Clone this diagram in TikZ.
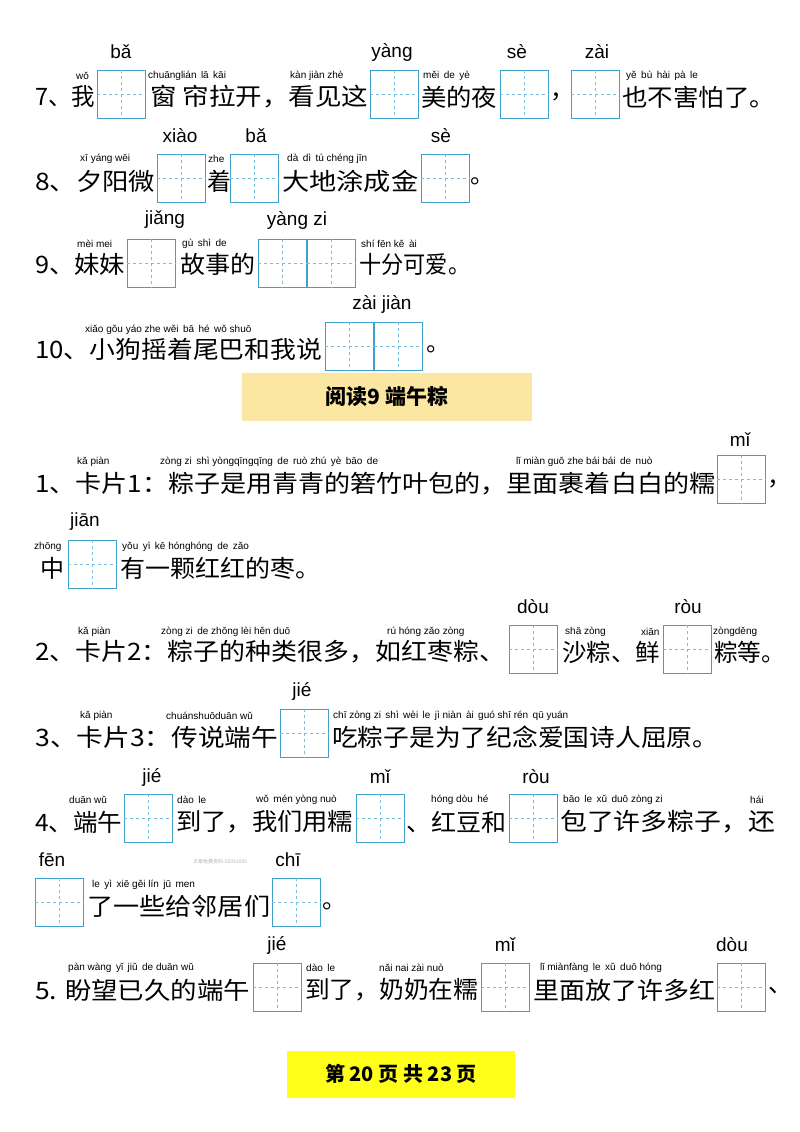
\documentclass[tikz,border=0pt]{standalone}
\usepackage{fontspec}
\usepackage{graphicx}
\setmainfont{Liberation Sans}
\newfontfamily\cjk{Noto Sans CJK SC}
\newfontfamily\py{Liberation Sans}
\definecolor{boxblue}{HTML}{3FA0CC}
\definecolor{titlebg}{HTML}{FBE7A1}
\definecolor{pagebg}{HTML}{FFFF1A}
\tikzset{
  zh/.style={anchor=west,inner sep=0pt,font=\cjk\fontsize{24}{24}\selectfont},
  sp/.style={anchor=west,inner sep=0pt,font=\py\fontsize{10}{10}\selectfont},
  bp/.style={anchor=center,inner sep=0pt,font=\py\fontsize{19}{19}\selectfont},
  tianbox/.style={draw=boxblue,line width=1.1pt,minimum width=48pt,minimum height=48pt,inner sep=0pt,anchor=north west},
}
\newcounter{bx}
\newcommand{\TB}[2]{\stepcounter{bx}%
  \node[tianbox] (b\thebx) at (#1,-#2) {};
  \draw[boxblue!70,dashed,line width=0.5pt] (b\thebx.north) -- (b\thebx.south) (b\thebx.west) -- (b\thebx.east);}
\newcounter{tx}
\newcommand{\ZH}[4]{\stepcounter{tx}\pgfmathsetmacro\zw{#3-#1}\node[zh] (z\thetx) at (#1,-#2) {\resizebox{\zw pt}{\height}{#4}};}
\newcommand{\ZC}[3]{\stepcounter{tx}\node[zh] (z\thetx) at (#1,-#2) {#3};}
\newcommand{\SP}[3]{\stepcounter{tx}\node[sp] (s\thetx) at (#1,-#2) {#3};}
\newcommand{\BP}[3]{\stepcounter{tx}\node[bp] (p\thetx) at (#1,-#2) {#3};}
\begin{document}
\begin{tikzpicture}[x=1pt,y=1pt]
\path[use as bounding box,fill=white] (0,0) rectangle (800,-1132);
% Row 7
\BP{121}{52}{bǎ}\BP{392}{52}{yàng}\BP{517}{52}{sè}\BP{597}{52}{zài}
\SP{76}{76}{wǒ}\SP{148}{76}{chuānglián\, lā\, kāi}\SP{290}{76}{kàn jiàn zhè}\SP{423}{76}{měi\, de\, yè}\SP{626}{76}{yě\, bù\, hài\, pà\, le}
\TB{97}{70}\TB{370}{70}\TB{500}{70}\TB{571}{70}
\ZH{35}{97}{95}{7、我}\ZH{150}{97}{368}{窗 帘拉开，看见这}\ZH{421}{97}{497}{美的夜}\ZC{550}{97}{，}\ZH{622}{97}{775}{也不害怕了。}
% Row 8
\BP{180}{136}{xiào}\BP{256}{136}{bǎ}\BP{441}{136}{sè}
\SP{80}{159}{xī yáng wēi}\SP{208}{159}{zhe}\SP{287}{159}{dà\, dì\, tú chéng jīn}
\TB{157}{154}\TB{230}{154}\TB{421}{154}
\ZH{35}{181}{155}{8、夕阳微}\ZC{207}{181}{着}\ZH{282}{181}{418}{大地涂成金}\ZC{470}{181}{。}
% Row 9
\BP{165}{220}{jiǎng}\BP{297}{220}{yàng zi}
\SP{77}{244}{mèi mei}\SP{182}{244}{gù\, shì\, de}\SP{361}{244}{shí fēn kě\, ài}
\TB{127}{239}\TB{258}{239}\TB{307}{239}
\ZH{35}{264}{125}{9、妹妹}\ZH{180}{264}{255}{故事的}\ZH{359}{264}{470}{十分可爱。}
% Row 10
\BP{382}{304}{zài jiàn}
\SP{85}{330}{xiǎo gǒu yáo zhe wěi\, bā\, hé\, wǒ shuō}
\TB{325}{322}\TB{374}{322}
\ZH{35}{349}{322}{10、小狗摇着尾巴和我说}\ZC{426}{349}{。}
% Title
\node[fill=titlebg,minimum width=290pt,minimum height=48pt,inner sep=0pt,font=\cjk\bfseries\fontsize{21}{21}\selectfont] (title) at (387,-397) {阅读9\ 端午粽};
% Q1
\BP{740}{440}{mǐ}
\SP{77}{462}{kǎ piàn}\SP{160}{462}{zòng zi\, shì yòngqīngqīng\, de\, ruò zhú\, yè\, bāo\, de}\SP{516}{462}{lǐ miàn guǒ zhe bái bái\, de\, nuò}
\TB{717}{455}
\ZH{35}{484}{715}{1、卡片1：粽子是用青青的箬竹叶包的，里面裹着白白的糯}\ZC{767}{484}{，}
\BP{85}{522}{jiān}
\SP{34}{547}{zhōng}\SP{122}{547}{yǒu\, yì\, kē hónghóng\, de\, zǎo}
\TB{68}{540}
\ZC{40}{568}{中}\ZH{120}{568}{320}{有一颗红红的枣。}
% Q2
\BP{533}{607}{dòu}\BP{688}{607}{ròu}
\SP{78}{632}{kǎ piàn}\SP{161}{632}{zòng zi\, de zhǒng lèi hěn duō}\SP{387}{632}{rú hóng zǎo zòng}\SP{565}{632}{shā zòng}\SP{641}{632}{xiān}\SP{713}{632}{zòngděng}
\TB{509}{625}\TB{663}{625}
\ZH{35}{652}{505}{2、卡片2：粽子的种类很多，如红枣粽、}\ZH{562}{652}{660}{沙粽、鲜}\ZH{714}{652}{785}{粽等。}
% Q3
\BP{302}{691}{jié}
\SP{80}{716}{kǎ piàn}\SP{166}{716}{chuánshuōduān wǔ}\SP{333}{716}{chī zòng zi\, shì\, wèi\, le\, jì niàn\, ài\, guó shī rén\, qū yuán}
\TB{280}{709}
\ZH{35}{737}{278}{3、卡片3：传说端午}\ZH{332}{737}{718}{吃粽子是为了纪念爱国诗人屈原。}
% Q4
\BP{152}{777}{jié}\BP{380}{777}{mǐ}\BP{536}{777}{ròu}
\SP{69}{800}{duān wǔ}\SP{177}{800}{dào\, le}\SP{256}{800}{wǒ\, mén yòng nuò}\SP{431}{800}{hóng dòu\, hé}\SP{563}{800}{bāo\, le\, xǔ\, duō zòng zi}\SP{750}{800}{hái}
\TB{124}{794}\TB{356}{794}\TB{509}{794}
\ZH{35}{822}{122}{4、端午}\ZH{176}{822}{353}{到了，我们用糯}\ZH{406}{822}{506}{、红豆和}\ZH{560}{822}{775}{包了许多粽子，还}
\BP{52}{860}{fēn}\BP{288}{860}{chī}
\node[inner sep=0pt,text=gray!60,font=\cjk\fontsize{5}{5}\selectfont] (wm) at (220,-862) {文章免费资料-55991030};
\SP{92}{885}{le\, yì\, xiē gěi lín\, jū\, men}
\TB{35}{878}\TB{272}{878}
\ZH{87}{906}{270}{了一些给邻居们}\ZC{322}{906}{。}
% Q5
\BP{277}{945}{jié}\BP{505}{945}{mǐ}\BP{732}{945}{dòu}
\SP{68}{968}{pàn wàng\, yǐ\, jiǔ\, de duān wǔ}\SP{306}{968}{dào\, le}\SP{379}{968}{nǎi nai zài nuò}\SP{540}{968}{lǐ miànfàng\, le\, xǔ\, duō hóng}
\TB{253}{963}\TB{481}{963}\TB{717}{963}
\ZH{35}{990}{250}{5. 盼望已久的端午}\ZH{305}{990}{478}{到了，奶奶在糯}\ZH{533}{990}{715}{里面放了许多红}\ZC{768}{990}{、}
% footer
\node[fill=pagebg,minimum width=228pt,minimum height=47pt,inner sep=0pt,font=\cjk\bfseries\fontsize{20}{20}\selectfont] (footer) at (401,-1074) {第 20 页 共 23 页};
\end{tikzpicture}
\end{document}
